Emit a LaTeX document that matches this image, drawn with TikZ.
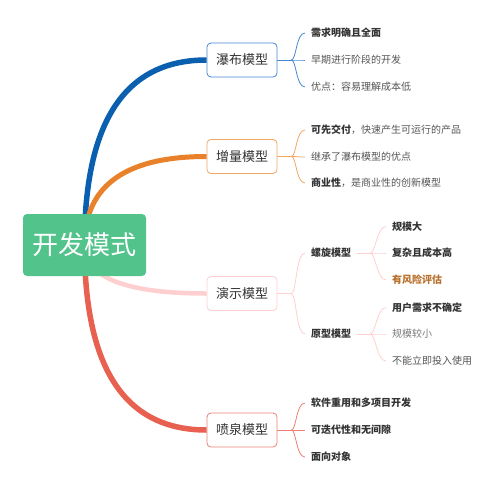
\documentclass[tikz,border=0pt]{standalone}
\usepackage{fontspec}
\setmainfont{Noto Sans CJK SC}
\usepackage{tikz}
\usetikzlibrary{positioning,backgrounds}
\definecolor{rootgreen}{HTML}{52C38B}
\definecolor{blueline}{HTML}{0B5FAF}
\definecolor{blueedge}{HTML}{4489D0}
\definecolor{orangeline}{HTML}{E8812A}
\definecolor{orangeedge}{HTML}{F3A664}
\definecolor{pinkline}{HTML}{FFCFCF}
\definecolor{pinkedge}{HTML}{FFCFCF}
\definecolor{redline}{HTML}{E8604F}
\definecolor{rededge}{HTML}{EB8075}
\definecolor{textdark}{HTML}{333333}
\definecolor{textgray}{HTML}{555555}
\definecolor{textlight}{HTML}{7A7A7A}
\definecolor{riskbrown}{HTML}{B8702C}
\tikzset{
  root/.style={fill=rootgreen, rounded corners=4pt, minimum width=123pt,
    minimum height=62pt, text=white, font=\fontsize{26}{30}\selectfont},
  model/.style={draw, fill=white, rounded corners=4pt, line width=0.8pt,
    minimum width=70pt, minimum height=34pt, text=textdark,
    font=\fontsize{13}{15}\selectfont},
  leaf/.style={anchor=west, inner xsep=6pt, inner ysep=2pt, text=textgray,
    font=\fontsize{10}{12}\selectfont},
  bleaf/.style={leaf, text=textdark, font=\fontsize{10}{12}\selectfont\bfseries},
  brace/.style={out=0, in=180, out distance=5pt, in distance=9pt},
  arm/.style={line width=0.8pt}
}
\begin{document}
\begin{tikzpicture}[x=1pt, y=-1pt]
\useasboundingbox (0,0) rectangle (502,490);
% root and the four models
\node[root] (root) at (84.5,245) {开发模式};
\node[model, draw=blueedge] (water) at (242,60) {瀑布模型};
\node[model, draw=orangeedge] (incr) at (242,156.5) {增量模型};
\node[model, draw=pinkedge] (demo) at (242,293.5) {演示模型};
\node[model, draw=rededge] (fount) at (242,430) {喷泉模型};
% main branches
\begin{scope}[on background layer]
\draw[blueline, line width=5.5pt] (root.center) .. controls +(0,-115) and +(-87,0) .. (water.west);
\draw[orangeline, line width=5pt] (root.center) .. controls +(0,-55) and +(-87,0) .. (incr.west);
\draw[pinkline, line width=4.5pt] (root.center) .. controls +(0,30) and +(-87,0) .. (demo.west);
\draw[redline, line width=5.5pt] (root.center) .. controls +(0,115) and +(-87,0) .. (fount.west);
\end{scope}
% waterfall
\node[bleaf] (w1) at (305,33) {需求明确且全面};
\node[leaf] (w2) at (305,60) {早期进行阶段的开发};
\node[leaf] (w3) at (305,87) {优点：容易理解成本低};
\coordinate[right=14pt of water] (wj);
\draw[arm, blueedge] (water.east) -- (wj);
\foreach \l in {w1,w2,w3} \draw[arm, blueedge] (wj) to[brace] (\l.west);
% incremental
\node[leaf] (i1) at (305,130) {\textbf{\textcolor{textdark}{可先交付}}，快速产生可运行的产品};
\node[leaf] (i2) at (305,157) {继承了瀑布模型的优点};
\node[leaf] (i3) at (305,183) {\textbf{\textcolor{textdark}{商业性}}，是商业性的创新模型};
\coordinate[right=14pt of incr] (ij);
\draw[arm, orangeedge] (incr.east) -- (ij);
\foreach \l in {i1,i2,i3} \draw[arm, orangeedge] (ij) to[brace] (\l.west);
% demo: spiral and prototype
\node[bleaf] (spiral) at (305,253) {螺旋模型};
\node[bleaf] (proto) at (305,334) {原型模型};
\coordinate[right=14pt of demo] (dj);
\draw[arm, pinkedge] (demo.east) -- (dj);
\foreach \l in {spiral,proto} \draw[arm, pinkedge] (dj) to[brace] (\l.west);
\node[bleaf] (s1) at (386,226.5) {规模大};
\node[bleaf] (s2) at (386,253) {复杂且成本高};
\node[bleaf, text=riskbrown] (s3) at (386,280) {有风险评估};
\coordinate[right=13pt of spiral] (sj);
\draw[arm, pinkedge] (spiral.east) -- (sj);
\foreach \l in {s1,s2,s3} \draw[arm, pinkedge] (sj) to[brace] (\l.west);
\node[bleaf] (p1) at (386,307.5) {用户需求不确定};
\node[leaf, text=textlight] (p2) at (386,334) {规模较小};
\node[leaf] (p3) at (386,361) {不能立即投入使用};
\coordinate[right=13pt of proto] (pj);
\draw[arm, pinkedge] (proto.east) -- (pj);
\foreach \l in {p1,p2,p3} \draw[arm, pinkedge] (pj) to[brace] (\l.west);
% fountain
\node[bleaf] (f1) at (305,403) {软件重用和多项目开发};
\node[bleaf] (f2) at (305,430) {可迭代性和无间隙};
\node[bleaf] (f3) at (305,457) {面向对象};
\coordinate[right=14pt of fount] (fj);
\draw[arm, rededge] (fount.east) -- (fj);
\foreach \l in {f1,f2,f3} \draw[arm, rededge] (fj) to[brace] (\l.west);
\end{tikzpicture}
\end{document}
